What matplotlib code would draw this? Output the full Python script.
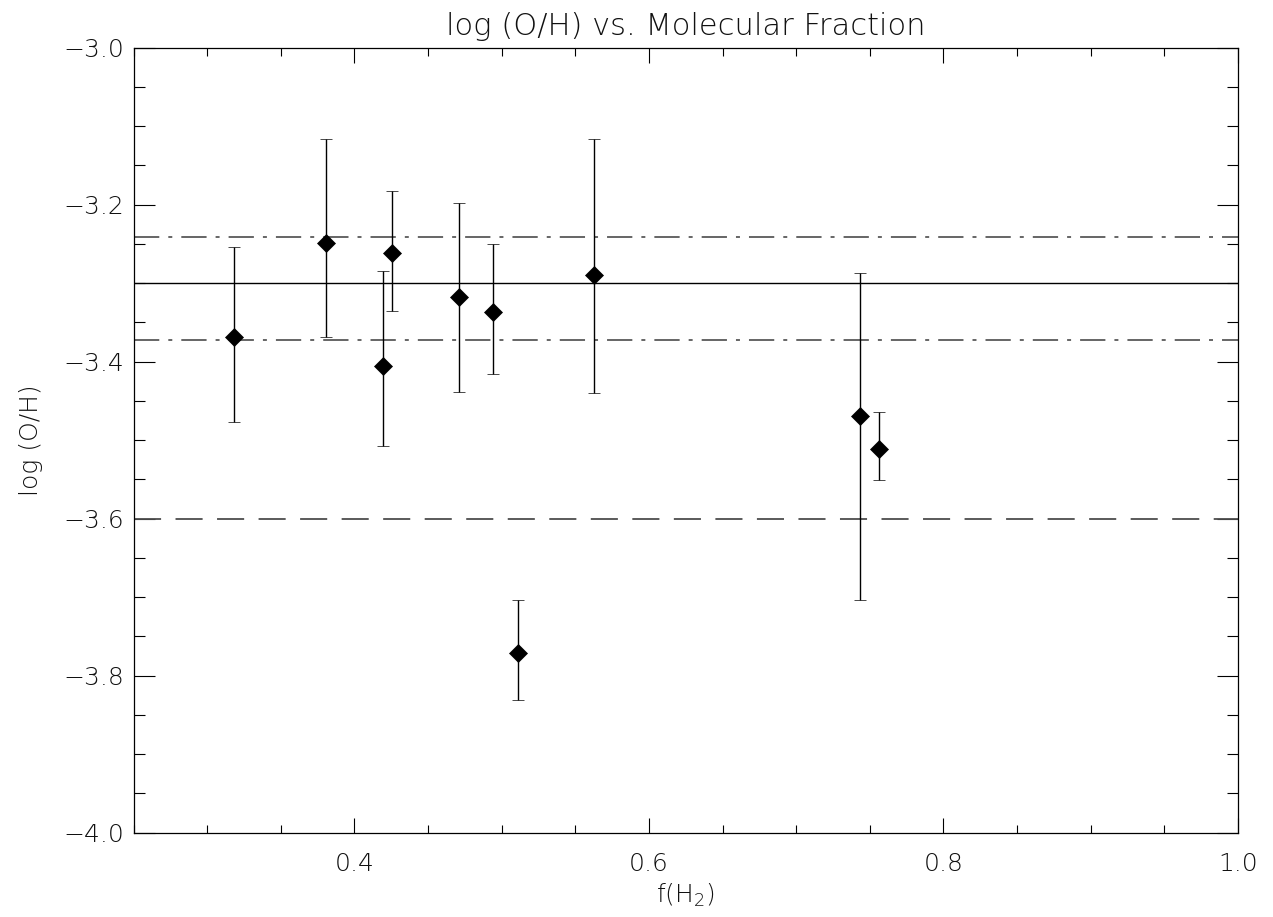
import matplotlib.pyplot as plt
from matplotlib.ticker import MultipleLocator, FuncFormatter

# molecular fraction and log(O/H) with lower/upper error bounds
f_h2 = [0.318, 0.381, 0.4195, 0.4255, 0.471, 0.494, 0.563, 0.511, 0.743, 0.756]
log_oh = [-3.368, -3.249, -3.405, -3.262, -3.317, -3.337, -3.290, -3.771, -3.469, -3.511]
log_oh_lo = [-3.477, -3.368, -3.508, -3.336, -3.439, -3.416, -3.440, -3.831, -3.704, -3.551]
log_oh_hi = [-3.254, -3.116, -3.284, -3.183, -3.198, -3.250, -3.116, -3.704, -3.287, -3.464]

# reference levels
mean_level = -3.30
band_levels = [-3.241, -3.372]
low_level = -3.60

plt.rcParams['font.family'] = 'DejaVu Sans'
plt.rcParams['font.size'] = 18
plt.rcParams['font.weight'] = 'light'
plt.rcParams['axes.titleweight'] = 'light'
plt.rcParams['axes.labelweight'] = 'light'
plt.rcParams['text.color'] = '#111111'
plt.rcParams['xtick.labelcolor'] = '#111111'
plt.rcParams['ytick.labelcolor'] = '#111111'
plt.rcParams['axes.labelcolor'] = '#111111'

fig = plt.figure(figsize=(12.73, 9.17), dpi=100)
ax = fig.add_axes([0.1049, 0.0919, 0.8676, 0.8561])

err_lo = [y - lo for y, lo in zip(log_oh, log_oh_lo)]
err_hi = [hi - y for y, hi in zip(log_oh, log_oh_hi)]

ax.axhline(mean_level, color='black', lw=1.0)
for lev in band_levels:
    ax.axhline(lev, color='0.35', lw=1.3, dashes=(14, 5, 2.2, 5))
ax.axhline(low_level, color='0.3', lw=1.3, dashes=(15, 8))

ax.errorbar(f_h2, log_oh, yerr=[err_lo, err_hi], fmt='D', color='black',
            ms=9.5, mew=0.5, elinewidth=1.0, capsize=4.3, capthick=1.0,
            ecolor='black', zorder=3)

ax.set_xlim(0.25, 1.0)
ax.set_ylim(-4.0, -3.0)
ax.xaxis.set_major_locator(MultipleLocator(0.2))
ax.xaxis.set_minor_locator(MultipleLocator(0.05))
ax.yaxis.set_major_locator(MultipleLocator(0.2))
ax.yaxis.set_minor_locator(MultipleLocator(0.05))
fmt = FuncFormatter(lambda v, pos: f'{v:.1f}'.replace('-', '\u2212'))
ax.xaxis.set_major_formatter(fmt)
ax.yaxis.set_major_formatter(fmt)

ax.tick_params(which='both', direction='in', top=True, right=True, width=0.8, color='black')
ax.tick_params(axis='x', which='major', length=11, pad=14)
ax.tick_params(axis='x', which='minor', length=5.5)
ax.tick_params(axis='y', which='major', length=15, pad=7)
ax.tick_params(axis='y', which='minor', length=8)
for s in ax.spines.values():
    s.set_linewidth(0.9)

ax.set_title('log (O/H) vs. Molecular Fraction', pad=9, fontsize=22)
ax.set_xlabel('f(H$_2$)', labelpad=4)
ax.set_ylabel('log (O/H)', labelpad=14)

fig.savefig('out.png', dpi=100)
